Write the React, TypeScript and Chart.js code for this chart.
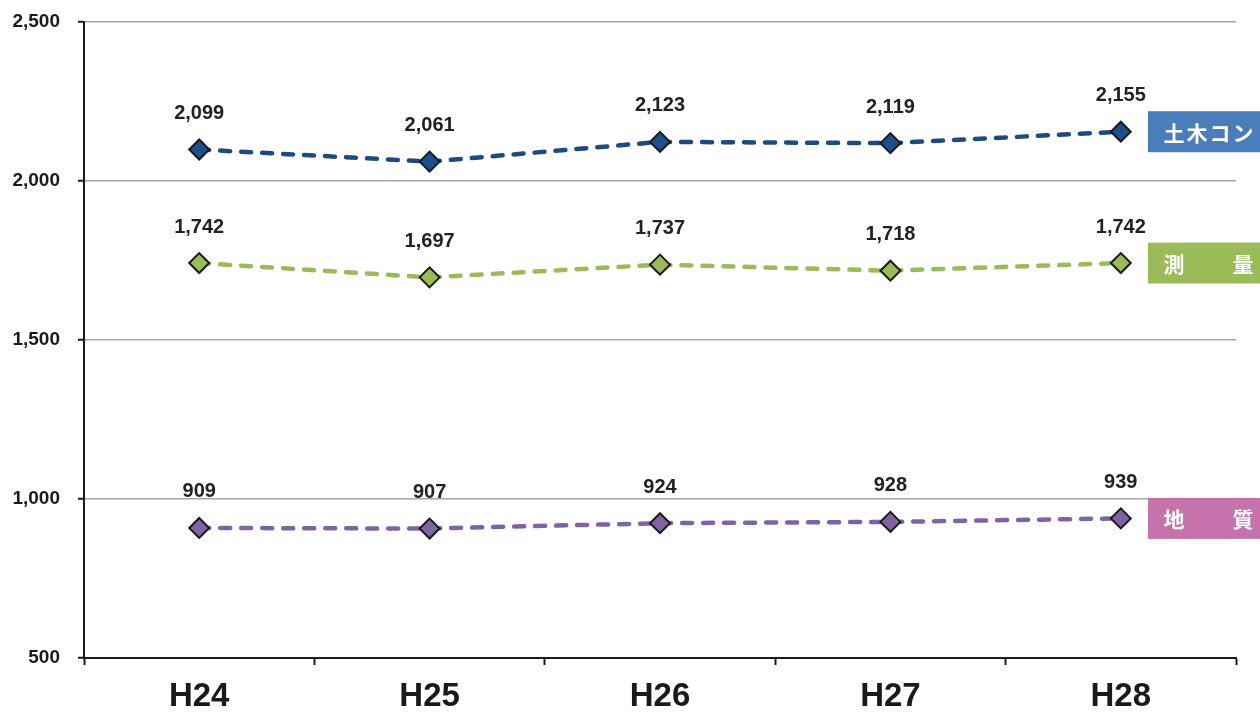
import React, { useEffect, useRef } from "react";
import { Chart, registerables } from "chart.js";

Chart.register(...registerables);

const categories = ["H24", "H25", "H26", "H27", "H28"];
const civilValues = [2099, 2061, 2123, 2119, 2155];
const surveyValues = [1742, 1697, 1737, 1718, 1742];
const geologyValues = [909, 907, 924, 928, 939];
const seriesNames = ["土木コン", "測　　量", "地　　質"];
const yTicks = [500, 1000, 1500, 2000, 2500];

const FONT = '"Liberation Sans", Arial, sans-serif';
const CJK = '"Noto Sans CJK JP", "Noto Sans CJK SC", sans-serif';

const lineColors = ["#1D4A80", "#9BBB59", "#8064A2"];
const pointColors = ["#1F4E8C", "#9BBB59", "#8064A2"];
const boxColors = ["#4A7EBB", "#9BBB59", "#C672AB"];

const labelsPlugin = {
  id: "valueLabels",
  afterDatasetsDraw(chart: any) {
    const ctx = chart.ctx;
    ctx.save();
    ctx.font = `bold 20px ${FONT}`;
    ctx.fillStyle = "#222222";
    ctx.textAlign = "center";
    ctx.textBaseline = "middle";
    chart.data.datasets.forEach((ds: any, di: number) => {
      const meta = chart.getDatasetMeta(di);
      meta.data.forEach((pt: any, i: number) => {
        const v = ds.data[i] as number;
        ctx.fillText(v.toLocaleString("en-US"), pt.x, pt.y - 36);
      });
    });
    ctx.restore();
  },
  afterDraw(chart: any) {
    const ctx = chart.ctx;
    const yScale = chart.scales.y;
    ctx.save();
    chart.data.datasets.forEach((ds: any, di: number) => {
      const last = ds.data[ds.data.length - 1] as number;
      const cy = yScale.getPixelForValue(last);
      const x0 = 1148;
      const w = 112;
      const h = 41;
      ctx.fillStyle = boxColors[di];
      ctx.fillRect(x0, cy - h / 2, w, h);
      ctx.fillStyle = "#ffffff";
      ctx.font = `bold 21px ${CJK}`;
      ctx.textAlign = "center";
      ctx.textBaseline = "middle";
      const chars = Array.from(seriesNames[di] as string);
      const startX = 1174;
      const step = (1243 - 1174) / (chars.length - 1);
      chars.forEach((c, k) => {
        if (c !== "　") ctx.fillText(c, startX + step * k, cy + 1);
      });
    });
    ctx.restore();
  },
};

function makeDataset(label: string, data: number[], idx: number) {
  return {
    label,
    data,
    borderColor: lineColors[idx],
    backgroundColor: pointColors[idx],
    borderWidth: 4.5,
    borderDash: [10, 11],
    borderCapStyle: "round" as const,
    pointStyle: "rectRot" as const,
    pointRadius: 10,
    pointBorderWidth: 2,
    pointBorderColor: "#1a1a1a",
    pointBackgroundColor: pointColors[idx],
    tension: 0,
    fill: false,
  };
}

export default function App() {
  const ref = useRef<HTMLCanvasElement | null>(null);
  useEffect(() => {
    if (!ref.current) return;
    const chart = new Chart(ref.current, {
      type: "line",
      data: {
        labels: categories,
        datasets: [
          makeDataset(seriesNames[0], civilValues, 0),
          makeDataset(seriesNames[1], surveyValues, 1),
          makeDataset(seriesNames[2], geologyValues, 2),
        ],
      },
      options: {
        animation: false,
        responsive: false,
        devicePixelRatio: 1,
        layout: { padding: { left: 0, right: 24, top: 22, bottom: 0 } },
        plugins: {
          legend: { display: false },
          tooltip: { enabled: false },
        },
        scales: {
          x: {
            offset: true,
            grid: {
              offset: true,
              drawOnChartArea: false,
              drawTicks: true,
              tickLength: 7,
              tickColor: "#1a1a1a",
              tickWidth: 2,
            },
            border: { display: true, color: "#1a1a1a", width: 2 },
            ticks: {
              color: "#1a1a1a",
              font: { family: FONT, size: 33, weight: "bold" },
              padding: 12,
            },
            afterFit(scale: any) {
              scale.height = 55;
              scale.paddingLeft = 0;
              scale.paddingRight = 0;
            },
          },
          y: {
            min: 500,
            max: 2500,
            afterBuildTicks(scale: any) {
              scale.ticks = yTicks.map((v) => ({ value: v }));
            },
            grid: {
              color: "#A6A6A6",
              lineWidth: 1.5,
              drawTicks: true,
              tickLength: 6,
              tickColor: "#1a1a1a",
              tickWidth: 2,
            },
            border: { display: true, color: "#1a1a1a", width: 2 },
            ticks: {
              color: "#1a1a1a",
              font: { family: FONT, size: 19, weight: "bold" },
              padding: 18,
              callback: (v: any) => Number(v).toLocaleString("en-US"),
            },
            afterFit(scale: any) {
              scale.width = 84;
              scale.paddingTop = 0;
              scale.paddingBottom = 0;
            },
          },
        },
      },
      plugins: [labelsPlugin],
    });
    return () => chart.destroy();
  }, []);
  return (
    <div style={{ position: "absolute", left: 0, top: 0, width: 1260, height: 713, background: "#fff" }}>
      <canvas ref={ref} width={1260} height={713} style={{ display: "block" }} />
    </div>
  );
}
